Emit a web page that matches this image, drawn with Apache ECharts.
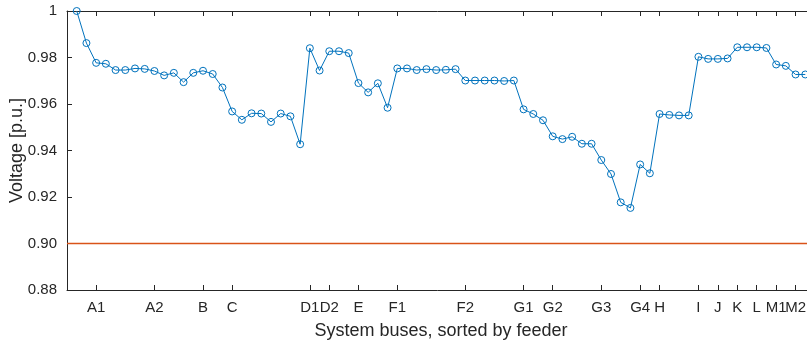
<!DOCTYPE html>
<html>
<head>
<meta charset="utf-8">
<script src="https://cdn.jsdelivr.net/npm/echarts@6/dist/echarts.min.js"></script>
<style>
  html, body { margin: 0; padding: 0; background: #fff; overflow: hidden; }
  #chart { width: 807px; height: 345px; }
</style>
</head>
<body>
<div id="chart"></div>
<script>
// Bus voltages (p.u.), buses in feeder order
const voltages = [
  1.0000, 0.9862, 0.9777, 0.9773, 0.9746, 0.9746, 0.9753, 0.9751, 0.9742, 0.9723,
  0.9734, 0.9694, 0.9734, 0.9743, 0.9729, 0.9671, 0.9568, 0.9532, 0.9560, 0.9559,
  0.9523, 0.9559, 0.9547, 0.9427, 0.9840, 0.9744, 0.9827, 0.9827, 0.9819, 0.9690,
  0.9650, 0.9689, 0.9584, 0.9753, 0.9753, 0.9746, 0.9750, 0.9746, 0.9747, 0.9750,
  0.9701, 0.9701, 0.9701, 0.9701, 0.9699, 0.9701, 0.9577, 0.9557, 0.9530, 0.9461,
  0.9449, 0.9459, 0.9429, 0.9429, 0.9359, 0.9299, 0.9177, 0.9153, 0.9340, 0.9302,
  0.9557, 0.9553, 0.9551, 0.9551, 0.9803, 0.9794, 0.9794, 0.9796, 0.9844, 0.9844,
  0.9844, 0.9841, 0.9770, 0.9764, 0.9727, 0.9727
];

// Feeder labels and the bus position each one marks
const feederNames = ['A1','A2','B','C','D1','D2','E','F1','F2','G1','G2','G3','G4','H','I','J','K','L','M1','M2'];
const feederPos   = [2, 8, 13, 16, 24, 26, 29, 33, 40, 46, 49, 54, 58, 60, 64, 66, 68, 70, 72, 74];

// Lower voltage limit
const limitValue = 0.90;

const xMin = -1, xMax = 76;
const busData = voltages.map((v, i) => [i, v]);
const limitData = [[xMin, limitValue], [xMax, limitValue]];
const nameAt = {};
feederPos.forEach((p, i) => { nameAt[p] = feederNames[i]; });

// Labels sit on two stacked axes (alternating) so touching names are all kept
const evenPos = feederPos.filter((p, i) => i % 2 === 0);
const oddPos  = feederPos.filter((p, i) => i % 2 === 1);

const textColor = '#262626';
const limitColor = '#D95319';
const busColor = '#0072BD';
const fontFamily = '"Liberation Sans", Arial, Helvetica, sans-serif';

const labelStyle = {
  show: true, margin: 10, hideOverlap: false,
  color: textColor, fontSize: 15, fontFamily: fontFamily,
  formatter: v => nameAt[Math.round(v)] || ''
};

const chart = echarts.init(document.getElementById('chart'), null, { renderer: 'canvas' });
chart.setOption({
  animation: false,
  backgroundColor: '#ffffff',
  grid: { left: 67, top: 11, width: 748, height: 279, containLabel: false, outerBoundsMode: 'none' },
  xAxis: [
    {
      type: 'value', position: 'bottom', min: xMin, max: xMax,
      name: 'System buses, sorted by feeder',
      nameLocation: 'middle', nameGap: 32,
      nameTextStyle: { color: textColor, fontSize: 18, fontFamily: fontFamily },
      axisLine: { show: true, onZero: false, lineStyle: { color: textColor, width: 1 } },
      axisTick: { show: true, inside: true, length: 5, customValues: feederPos,
                  lineStyle: { color: textColor, width: 1 } },
      axisLabel: Object.assign({ customValues: evenPos }, labelStyle),
      splitLine: { show: false }
    },
    {
      type: 'value', position: 'top', min: xMin, max: xMax,
      axisLine: { show: true, onZero: false, lineStyle: { color: textColor, width: 1 } },
      axisTick: { show: true, inside: true, length: 5, customValues: feederPos,
                  lineStyle: { color: textColor, width: 1 } },
      axisLabel: { show: false },
      splitLine: { show: false }
    },
    {
      type: 'value', position: 'bottom', offset: 0, min: xMin, max: xMax,
      axisLine: { show: false, onZero: false },
      axisTick: { show: false },
      axisLabel: Object.assign({ customValues: oddPos }, labelStyle),
      splitLine: { show: false }
    }
  ],
  yAxis: {
    type: 'value', min: 0.88, max: 1, interval: 0.02,
    name: 'Voltage [p.u.]', nameLocation: 'middle', nameGap: 41, nameRotate: 90,
    nameMoveOverlap: false,
    nameTextStyle: { color: textColor, fontSize: 18, fontFamily: fontFamily },
    axisLine: { show: true, onZero: false, lineStyle: { color: textColor, width: 1 } },
    axisTick: { show: true, inside: true, length: 5, lineStyle: { color: textColor, width: 1 } },
    axisLabel: { color: textColor, fontSize: 15, fontFamily: fontFamily, margin: 10,
                 formatter: v => (Math.abs(v - 1) < 1e-9 ? '1' : v.toFixed(2)) },
    splitLine: { show: false }
  },
  series: [
    {
      type: 'line', name: 'limit', xAxisIndex: 0, data: limitData,
      color: limitColor, symbol: 'none',
      itemStyle: { color: limitColor },
      lineStyle: { color: limitColor, width: 1.3 }, silent: true, z: 3
    },
    {
      type: 'line', name: 'voltage', xAxisIndex: 0, data: busData,
      color: busColor, symbol: 'circle', symbolSize: 7, showAllSymbol: true,
      lineStyle: { color: busColor, width: 1 },
      itemStyle: { color: 'rgba(255,255,255,0)', borderColor: busColor, borderWidth: 1 },
      silent: true, z: 3
    }
  ]
});
</script>
</body>
</html>
